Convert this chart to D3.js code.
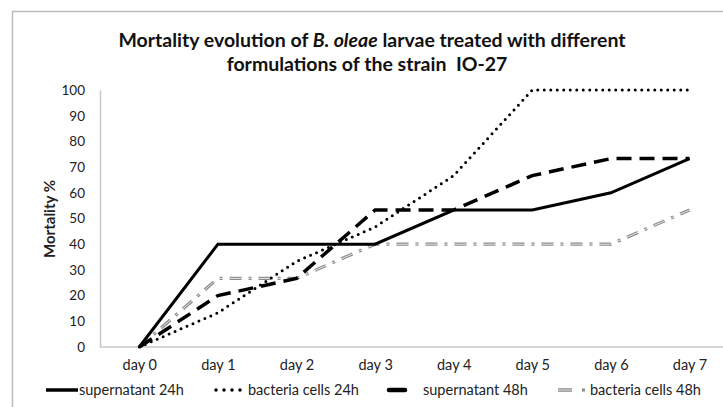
<!DOCTYPE html>
<html>
<head>
<meta charset="utf-8">
<script src="https://cdn.jsdelivr.net/npm/d3@7"></script>
<style>
  body { margin: 0; background: #fff; }
  svg { display: block; font-family: Lato, "Open Sans", sans-serif; }
</style>
</head>
<body>
<div id="chart"></div>
<script>
// chart values
let days = ["day 0", "day 1", "day 2", "day 3", "day 4", "day 5", "day 6", "day 7"];
let supernatant24 = [0, 40, 40, 40, 53.3, 53.3, 60, 73.3];
let bacteria24 = [0, 13.3, 33.3, 46.7, 66.7, 100, 100, 100];
let supernatant48 = [0, 20, 26.7, 53.3, 53.3, 66.7, 73.3, 73.3];
let bacteria48 = [0, 26.7, 26.7, 40, 40, 40, 40, 53.3];
let yTicks = [0, 10, 20, 30, 40, 50, 60, 70, 80, 90, 100];
let seriesNames = ["supernatant 24h", "bacteria cells 24h", "supernatant 48h", "bacteria cells 48h"];

let width = 723, height = 407;
let margin = {top: 90, left: 100, bottom: 60};
let bandW = 78.6;

let svg = d3.select("#chart").append("svg")
    .attr("width", width)
    .attr("height", height);

// outer chart border (only left and top are in view)
svg.append("path")
    .attr("d", "M12.5," + height + "V11.5H" + width)
    .attr("fill", "none")
    .attr("stroke", "#bdbdbd")
    .attr("stroke-width", 1.5);

let x = d3.scalePoint()
    .domain(days)
    .range([margin.left + bandW / 2, margin.left + bandW * 7.5]);

let y = d3.scaleLinear()
    .domain([0, 100])
    .range([347, margin.top]);

// title
let title = svg.append("text")
    .attr("text-anchor", "middle")
    .attr("font-weight", "bold")
    .attr("font-size", 19.5)
    .attr("fill", "#111");
let t1 = title.append("tspan").attr("x", 372).attr("y", 47);
t1.append("tspan").text("Mortality evolution of ");
t1.append("tspan").attr("font-style", "italic").text("B. oleae");
t1.append("tspan").text(" larvae treated with different");
title.append("tspan").attr("x", 367).attr("y", 71)
    .text("formulations of the strain\u00a0 IO-27");

// y axis
let yAxis = svg.append("g")
    .attr("transform", "translate(" + margin.left + ",0)")
    .call(d3.axisLeft(y).tickValues(yTicks).tickSize(0).tickPadding(15));
yAxis.select(".domain").attr("stroke", "#c8c8c8").attr("stroke-width", 1.5);
yAxis.selectAll("text").attr("font-size", 13.5).attr("fill", "#222")
    .attr("font-family", "Lato, sans-serif");

// x axis
let xAxis = svg.append("g")
    .attr("transform", "translate(0," + y(0) + ")")
    .call(d3.axisBottom(x).tickSize(0).tickPadding(13));
xAxis.select(".domain")
    .attr("d", "M" + margin.left + ",0H" + width)
    .attr("stroke", "#c8c8c8").attr("stroke-width", 1.5);
xAxis.selectAll("text").attr("font-size", 14.5).attr("fill", "#222")
    .attr("font-family", "Lato, sans-serif");

// y axis title
svg.append("text")
    .attr("transform", "translate(55,219) rotate(-90)")
    .attr("text-anchor", "middle")
    .attr("font-weight", "bold")
    .attr("font-size", 15)
    .attr("fill", "#222")
    .text("Mortality %");

let line = d3.line()
    .x((d, i) => x(days[i]))
    .y(d => y(d));

let plot = svg.append("g").attr("fill", "none");

// bacteria cells 48h: grey double line, dash-dot
plot.append("path").datum(bacteria48)
    .attr("d", line)
    .attr("stroke", "#8a8a8a")
    .attr("stroke-width", 3.2)
    .attr("stroke-dasharray", "12,7,3,7");
plot.append("path").datum(bacteria48)
    .attr("d", line)
    .attr("stroke", "#fff")
    .attr("stroke-width", 0.8)
    .attr("stroke-dasharray", "12,7,3,7");

// supernatant 48h: long dashes
plot.append("path").datum(supernatant48)
    .attr("d", line)
    .attr("stroke", "#000")
    .attr("stroke-width", 3.5)
    .attr("stroke-dasharray", "15,8");

// bacteria cells 24h: round dots
plot.append("path").datum(bacteria24)
    .attr("d", line)
    .attr("stroke", "#000")
    .attr("stroke-width", 3)
    .attr("stroke-linecap", "round")
    .attr("stroke-dasharray", "0,6.5");

// supernatant 24h: solid
plot.append("path").datum(supernatant24)
    .attr("d", line)
    .attr("stroke", "#000")
    .attr("stroke-width", 3);

// legend
let legY = 390;
let legend = svg.append("g").attr("font-size", 14.5).attr("fill", "#222");
let legItems = [
    {name: seriesNames[0], x0: 46, x1: 78, tx: 79},
    {name: seriesNames[1], x0: 216, x1: 245, tx: 248},
    {name: seriesNames[2], x0: 389, x1: 405, tx: 423},
    {name: seriesNames[3], x0: 558, x1: 572, tx: 590}
];
legItems.forEach((d, i) => {
    let g = legend.append("g");
    let seg = "M" + d.x0 + "," + legY + "H" + d.x1;
    if (i === 0) {
        g.append("path").attr("d", seg).attr("stroke", "#000").attr("stroke-width", 3.5);
    } else if (i === 1) {
        g.append("path").attr("d", seg).attr("stroke", "#000").attr("stroke-width", 3.5)
            .attr("stroke-linecap", "round").attr("stroke-dasharray", "0,8");
    } else if (i === 2) {
        g.append("path").attr("d", seg).attr("stroke", "#000").attr("stroke-width", 4.5)
            .attr("stroke-linecap", "round");
    } else {
        g.append("path").attr("d", seg).attr("stroke", "#8a8a8a").attr("stroke-width", 3.5);
        g.append("path").attr("d", seg).attr("stroke", "#fff").attr("stroke-width", 0.8);
        g.append("path").attr("d", "M582," + legY + "H585").attr("stroke", "#8a8a8a").attr("stroke-width", 3);
    }
    g.append("text")
        .attr("x", d.tx)
        .attr("y", legY)
        .attr("dy", "0.35em")
        .text(d.name);
});
</script>
</body>
</html>
